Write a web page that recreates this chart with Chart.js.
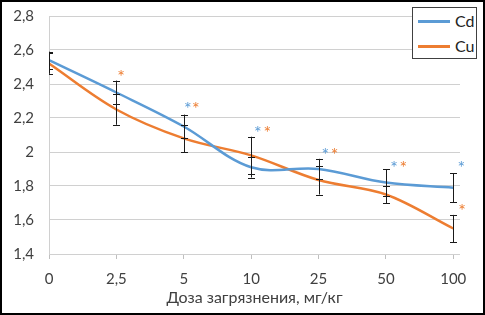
<!DOCTYPE html>
<html>
<head>
<meta charset="utf-8">
<script src="https://cdn.jsdelivr.net/npm/chart.js@4/dist/chart.umd.min.js"></script>
<style>
  body { margin: 0; background: #fff; }
  #wrap { position: relative; width: 485px; height: 315px; }
  #frame { position: absolute; left: 0; top: 0; width: 485px; height: 315px; box-sizing: border-box; border: 2px solid #000; pointer-events: none; }
  #legend { position: absolute; left: 412px; top: 7px; width: 65px; height: 52px; box-sizing: border-box; border: 1px solid #404040; background: #fff; font: 16px Lato, sans-serif; color: #222; }
  .item { position: absolute; left: 5px; height: 18px; line-height: 18px; }
  .item span.ln { position: absolute; left: 0; top: 8px; width: 32px; height: 3px; }
  .item span.tx { position: absolute; left: 37px; top: 0; }
</style>
</head>
<body>
<div id="wrap">
  <canvas id="doseChart" width="485" height="315"></canvas>
  <div id="legend"></div>
  <div id="frame"></div>
</div>
<script>
// категории по оси X (доза, мг/кг)
const categories = ["0", "2,5", "5", "10", "25", "50", "100"];
// значения рядов
const cdValues = [2.54, 2.35, 2.15, 1.91, 1.90, 1.82, 1.79];
const cuValues = [2.52, 2.25, 2.08, 1.98, 1.835, 1.75, 1.55];
// погрешности (±)
const cdErrors = [0.05, 0.07, 0.07, 0.06, 0.06, 0.08, 0.085];
const cuErrors = [0.06, 0.09, 0.08, 0.11, 0.085, 0.05, 0.08];
// звёздочки значимости: позиция по категории и значение по Y
const cdStarX = [2.06, 3.10, 4.10, 5.12, 6.12];
const cdStarY = [2.27, 2.13, 2.00, 1.925, 1.925];
const cuStarX = [1.07, 2.18, 3.24, 4.24, 5.26, 6.13];
const cuStarY = [2.46, 2.27, 2.13, 2.00, 1.925, 1.67];
// подписи оси Y
const yTicks = [1.4, 1.6, 1.8, 2.0, 2.2, 2.4, 2.6, 2.8];

const blue = "#5B9BD5";
const orange = "#ED7D31";
const font = "Lato, sans-serif";

// рисуем усы погрешностей и звёздочки
const extrasPlugin = {
  id: "extras",
  afterDatasetsDraw(chart) {
    const ctx = chart.ctx;
    const xs = chart.scales.x;
    const ys = chart.scales.y;
    const area = chart.chartArea;
    ctx.save();
    ctx.beginPath();
    ctx.rect(area.left, area.top - 20, area.right - area.left + 10, area.bottom - area.top + 20);
    ctx.clip();
    ctx.strokeStyle = "#1a1a1a";
    ctx.lineWidth = 1;
    [[cdValues, cdErrors], [cuValues, cuErrors]].forEach(function (pair) {
      pair[0].forEach(function (v, i) {
        const x = Math.round(xs.getPixelForValue(i)) + 0.5;
        const y1 = ys.getPixelForValue(v + pair[1][i]);
        const y2 = ys.getPixelForValue(v - pair[1][i]);
        ctx.beginPath();
        ctx.moveTo(x, y1); ctx.lineTo(x, y2);
        ctx.moveTo(x - 3.5, Math.round(y1) + 0.5); ctx.lineTo(x + 3.5, Math.round(y1) + 0.5);
        ctx.moveTo(x - 3.5, Math.round(y2) + 0.5); ctx.lineTo(x + 3.5, Math.round(y2) + 0.5);
        ctx.stroke();
      });
    });
    ctx.restore();

    ctx.save();
    ctx.font = "18px " + font;
    ctx.textAlign = "center";
    ctx.textBaseline = "alphabetic";
    [[cdStarX, cdStarY, blue], [cuStarX, cuStarY, orange]].forEach(function (s) {
      ctx.fillStyle = s[2];
      s[0].forEach(function (xv, i) {
        ctx.fillText("*", xs.getPixelForValue(xv), ys.getPixelForValue(s[1][i]) + 9);
      });
    });
    ctx.restore();
  }
};

const ctx = document.getElementById("doseChart").getContext("2d");
const myChart = new Chart(ctx, {
  type: "line",
  data: {
    datasets: [
      {
        label: "Cd",
        data: cdValues.map(function (v, i) { return { x: i, y: v }; }),
        borderColor: blue,
        borderWidth: 2.5,
        pointRadius: 0,
        tension: 0.35,
        fill: false
      },
      {
        label: "Cu",
        data: cuValues.map(function (v, i) { return { x: i, y: v }; }),
        borderColor: orange,
        borderWidth: 2.5,
        pointRadius: 0,
        tension: 0.35,
        fill: false
      }
    ]
  },
  options: {
    responsive: false,
    animation: false,
    layout: { padding: { left: 0, top: 16, right: 25, bottom: 0 } },
    plugins: { legend: { display: false }, tooltip: { enabled: false } },
    scales: {
      x: {
        type: "linear",
        min: 0,
        max: 6.1,
        afterBuildTicks: function (scale) {
          scale.ticks = categories.map(function (c, i) { return { value: i }; });
        },
        afterFit: function (scale) { scale.height = 61; },
        ticks: {
          autoSkip: false,
          maxRotation: 0,
          padding: 11,
          color: "#404040",
          font: { family: font, size: 15 },
          callback: function (v) { return categories[v]; }
        },
        grid: { drawOnChartArea: false, drawTicks: true, tickLength: 5, color: "#bfbfbf" },
        border: { display: false },
        title: {
          display: true,
          text: "Доза загрязнения, мг/кг",
          color: "#404040",
          font: { family: font, size: 16 },
          padding: { top: 0, bottom: 8 }
        }
      },
      y: {
        min: 1.4,
        max: 2.8,
        afterBuildTicks: function (scale) {
          scale.ticks = yTicks.map(function (v) { return { value: v }; });
        },
        afterFit: function (scale) {
          scale.width = 49;
          scale.paddingTop = 0;
          scale.paddingBottom = 0;
        },
        ticks: {
          padding: 15,
          color: "#404040",
          font: { family: font, size: 15 },
          callback: function (v) { return String(parseFloat(v.toFixed(1))).replace(".", ","); }
        },
        grid: { color: "#d0d0d0", drawTicks: false, lineWidth: 1 },
        border: { display: true, color: "#d0d0d0" }
      }
    }
  },
  plugins: [extrasPlugin]
});

// легенда
const legend = document.getElementById("legend");
myChart.data.datasets.forEach(function (ds, i) {
  const item = document.createElement("div");
  item.className = "item";
  item.style.top = (i === 0 ? 4 : 29) + "px";
  item.innerHTML = '<span class="ln" style="background:' + ds.borderColor + '"></span><span class="tx">' + ds.label + "</span>";
  legend.appendChild(item);
});
</script>
</body>
</html>
